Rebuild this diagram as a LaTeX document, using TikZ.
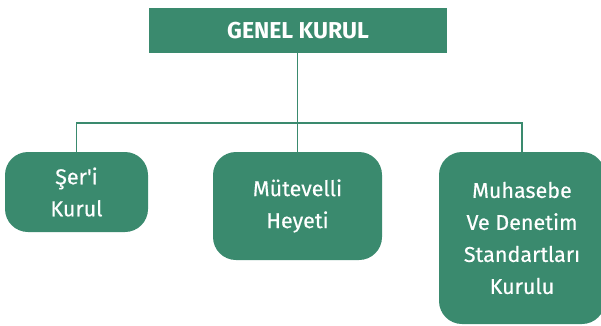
\documentclass[tikz,border=0pt]{standalone}
\usepackage{fontspec}
\setmainfont{Fira Sans}
\newfontfamily\plainfont{Fira Sans}[FakeBold=0.4]
\definecolor{grn}{HTML}{3A8A6E}
\begin{document}
\begin{tikzpicture}[x=1pt,y=-1pt,
  box/.style={fill=grn,text=white,rounded corners=23pt,inner sep=0pt,align=center,
    font=\plainfont\fontsize{21.5}{32}\selectfont},
  line/.style={draw=grn,line width=1.8pt}]
\useasboundingbox (0,0) rectangle (601,325);
\node[fill=grn,text=white,minimum width=298pt,minimum height=45pt,inner sep=0pt,
  font=\bfseries\fontsize{23}{24}\selectfont] (gk) at (298,30.5) {GENEL KURUL};
\node[box,minimum width=143pt,minimum height=80pt] (sk) at (76.5,192) {Şer'i\\Kurul};
\node[box,minimum width=169pt,minimum height=108pt] (mh) at (297.5,206) {Mütevelli\\Heyeti};
\node[box,minimum width=166pt,minimum height=172pt] (md) at (522,238) {Muhasebe\\Ve Denetim\\Standartları\\Kurulu};
\coordinate (j) at (297.5,123);
\draw[line] (gk.south -| mh.north) -- (mh.north);
\draw[line] (sk.north) |- (j) -| (md.north);
\end{tikzpicture}
\end{document}
